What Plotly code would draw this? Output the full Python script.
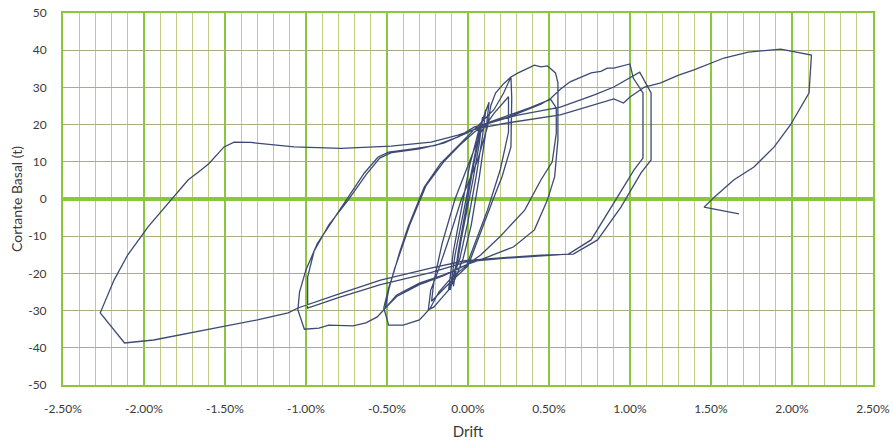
import plotly.graph_objects as go

# Cyclic lateral test: roof drift (%) vs. base shear (t), recorded as one continuous path.

# Cycles at +/-0.1 % drift
drift_01 = [0.00, -0.04, -0.09, -0.06, -0.02, 0.03, 0.07, 0.09, 0.07, 0.03, -0.02, -0.07, -0.11,
            -0.08, -0.03, 0.02, 0.07, 0.11, 0.09, 0.05, 0.00, -0.05, -0.12, -0.09, -0.04, 0.01,
            0.07, 0.13, 0.11, 0.07, 0.02]
shear_01 = [0.0, -10.0, -23.5, -14.0, -4.0, 8.0, 17.0, 22.0, 15.0, 5.0, -6.0, -17.0, -24.5,
            -15.0, -4.0, 7.0, 18.0, 24.0, 17.0, 6.0, -6.0, -16.0, -24.5, -14.0, -3.0, 9.0,
            19.0, 26.0, 18.0, 6.0, -7.0]

# Cycles at +/-0.25 % drift
drift_025 = [-0.03, -0.08, -0.12, -0.17, -0.21, -0.245, -0.23, -0.19, -0.12, -0.04, 0.06, 0.12,
             0.14, 0.17, 0.22, 0.265, 0.27, 0.265, 0.21, 0.16, 0.06, 0.00,
             -0.10, -0.18, -0.225, -0.21, -0.16, -0.08, 0.02, 0.08, 0.16, 0.22, 0.25,
             0.25, 0.20, 0.12, 0.04, -0.01]
shear_025 = [-16.0, -21.5, -24.5, -27.0, -29.0, -29.8, -24.5, -20.0, -11.0, 0.0, 10.5, 19.4,
             25.0, 28.5, 31.0, 32.8, 27.2, 14.0, 6.0, 0.5, -11.0, -18.0,
             -22.0, -25.5, -27.5, -22.0, -12.0, 0.0, 11.0, 18.0, 23.0, 26.0, 27.5,
             18.0, 8.0, -3.0, -12.0, -18.0]

# Cycles at +/-0.5 % drift
drift_05 = [-0.10, -0.18, -0.235, -0.26, -0.30, -0.40, -0.49, -0.52, -0.49, -0.46, -0.42, -0.37,
            -0.27, -0.17, -0.086, 0.00, 0.08, 0.16, 0.22, 0.265, 0.31, 0.35, 0.41, 0.45, 0.49,
            0.54, 0.555, 0.555, 0.555, 0.535, 0.49, 0.41, 0.28, 0.12, 0.00,
            -0.15, -0.30, -0.44, -0.51, -0.49, -0.455, -0.36, -0.26, -0.15, -0.05, 0.04, 0.12,
            0.25, 0.38, 0.51, 0.545, 0.545, 0.52, 0.45, 0.35, 0.20, 0.08, 0.00]
shear_05 = [-21.0, -25.0, -29.5, -30.7, -32.5, -33.9, -33.9, -29.3, -24.0, -20.0, -14.0, -7.5,
            3.2, 9.5, 13.2, 16.7, 20.4, 24.0, 28.5, 32.8, 33.9, 34.7, 36.0, 35.5, 35.8,
            33.9, 31.2, 24.0, 15.9, 6.0, -0.3, -8.3, -12.9, -15.6, -17.5,
            -20.4, -22.6, -25.8, -29.3, -24.5, -19.0, -7.0, 3.5, 10.0, 14.5, 18.0, 20.5,
            22.5, 24.5, 26.8, 24.5, 17.7, 10.0, 5.1, -3.0, -10.0, -15.0, -17.5]

# Cycles at +/-1.0 % drift
drift_10 = [-0.15, -0.30, -0.44, -0.51, -0.56, -0.63, -0.71, -0.86, -0.92, -1.01, -1.05,
            -1.04, -1.00, -0.93, -0.84, -0.75, -0.64, -0.555, -0.49, -0.35, -0.20, -0.06, 0.04,
            0.25, 0.45, 0.51, 0.57, 0.63, 0.70, 0.76, 0.82, 0.86, 0.90, 0.94, 1.00,
            1.02, 1.08, 1.08, 1.08, 1.025, 0.90, 0.76, 0.62, 0.45, 0.20, 0.00,
            -0.23, -0.54, -0.80, -0.99, -0.99, -0.95, -0.86, -0.74, -0.63, -0.545, -0.47,
            -0.30, -0.15, -0.02, 0.10, 0.30, 0.57, 0.78, 0.90, 1.06,
            1.13, 1.13, 1.068, 0.944, 0.80, 0.65, 0.45, 0.20, -0.02]
shear_10 = [-20.6, -23.0, -26.2, -29.3, -31.7, -33.3, -34.1, -33.9, -34.7, -35.0, -29.8,
            -25.0, -19.0, -12.0, -6.0, -0.3, 7.0, 11.3, 12.6, 13.4, 14.4, 16.7, 19.4,
            22.0, 25.5, 27.0, 29.5, 31.5, 32.8, 33.9, 34.3, 35.2, 35.2, 35.6, 36.3,
            32.5, 28.5, 20.0, 11.0, 7.8, -1.0, -11.0, -14.8, -15.3, -16.0, -16.8,
            -19.8, -23.0, -26.5, -29.3, -21.0, -14.0, -7.0, -0.3, 6.5, 11.0, 12.5,
            13.5, 15.0, 17.5, 20.0, 22.5, 24.7, 28.0, 30.1, 34.1,
            28.5, 10.5, 7.0, -2.2, -11.0, -14.8, -15.1, -15.8, -16.6]

# Final cycle to +/-2.0 % drift
drift_20 = [-0.23, -0.54, -0.80, -1.05, -1.11, -1.30, -1.50, -1.70, -1.94, -2.12, -2.27,
            -2.185, -2.10, -1.975, -1.833, -1.728, -1.648, -1.60, -1.506, -1.444, -1.34, -1.198,
            -1.074, -0.784, -0.475, -0.228, -0.062, 0.062, 0.25, 0.57, 0.90, 0.96, 1.00,
            1.09, 1.19, 1.30, 1.395, 1.58, 1.73, 1.93, 2.12,
            2.105, 1.99, 1.89, 1.765, 1.64, 1.52, 1.457, 1.673]
shear_20 = [-18.6, -21.8, -25.6, -29.3, -30.6, -32.5, -34.2, -35.8, -37.9, -38.7, -30.6,
            -21.8, -15.0, -7.5, -0.3, 5.1, 7.8, 9.5, 14.0, 15.3, 15.2, 14.5,
            14.0, 13.6, 14.2, 15.3, 17.2, 19.0, 20.5, 22.6, 26.9, 25.8, 27.4,
            30.1, 31.2, 33.3, 34.7, 37.9, 39.5, 40.3, 38.7,
            28.5, 19.9, 14.0, 8.6, 5.1, 0.5, -2.2, -4.0]

x_ticks = [-2.5, -2.0, -1.5, -1.0, -0.5, 0.0, 0.5, 1.0, 1.5, 2.0, 2.5]
x_labels = ["-2.50%", "-2.00%", "-1.50%", "-1.00%", "-0.50%", "0.00%",
            "0.50%", "1.00%", "1.50%", "2.00%", "2.50%"]
y_ticks = [-50, -40, -30, -20, -10, 0, 10, 20, 30, 40, 50]
y_labels = ["-50", "-40", "-30", "-20", "-10", "0", "10", "20", "30", "40", "50"]

drift = drift_01 + drift_025 + drift_05 + drift_10 + drift_20
shear = shear_01 + shear_025 + shear_05 + shear_10 + shear_20

GREEN = "#8cc63f"
OLIVE = "#c3cc82"
GREY_H = "#a9ad86"
FONT = "Lato, 'Open Sans', sans-serif"

fig = go.Figure()
fig.add_trace(go.Scatter(
    x=drift, y=shear, mode="lines",
    line=dict(color="#3c4a74", width=1.3),
    hoverinfo="skip", showlegend=False,
))

fig.update_layout(
    width=893, height=446,
    margin=dict(l=63, r=20, t=13, b=61),
    paper_bgcolor="white", plot_bgcolor="white",
    font=dict(family=FONT, size=12, color="#3a3a3a"),
    showlegend=False,
)

fig.update_xaxes(
    range=[-2.5, 2.5], automargin=False,
    tickmode="array", tickvals=x_ticks, ticktext=x_labels,
    ticks="", ticklabelstandoff=12,
    showgrid=True, gridcolor=GREEN, gridwidth=2,
    minor=dict(tick0=0, dtick=0.1, showgrid=True, gridcolor=OLIVE, gridwidth=1),
    zeroline=True, zerolinecolor=GREEN, zerolinewidth=2,
    showline=True, mirror=True, linecolor=GREEN, linewidth=2,
    title=dict(text="Drift", font=dict(size=15, family=FONT, color="#3a3a3a"), standoff=11),
)

fig.update_yaxes(
    range=[-50, 50], automargin=False,
    tickmode="array", tickvals=y_ticks, ticktext=y_labels,
    ticks="", ticklabelstandoff=12,
    showgrid=True, gridcolor=GREY_H, gridwidth=1,
    zeroline=True, zerolinecolor=GREEN, zerolinewidth=3.5,
    showline=True, mirror=True, linecolor=GREEN, linewidth=2,
    title=dict(text="Cortante Basal (t)", font=dict(size=14, family=FONT, color="#3a3a3a"),
               standoff=2),
)

fig.write_html("out.html")
